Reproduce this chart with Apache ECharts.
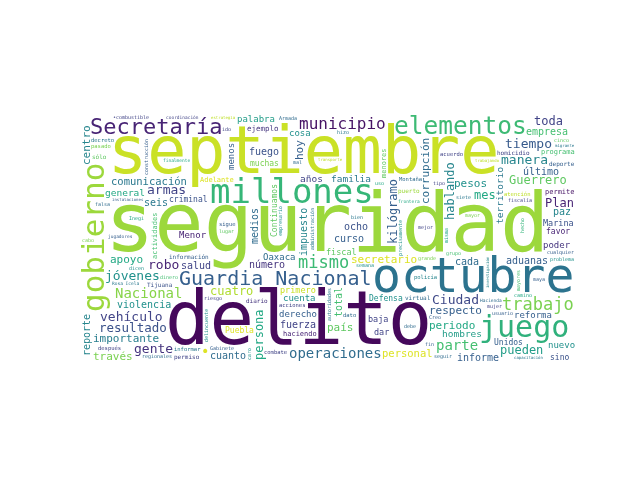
<!DOCTYPE html>
<html>
<head>
<meta charset="utf-8">
<script src="https://cdn.jsdelivr.net/npm/echarts@6/dist/echarts.min.js"></script>
<style>
  html, body { margin: 0; padding: 0; background: #fff; }
  #chart { width: 640px; height: 480px; }
</style>
</head>
<body>
<div id="chart"></div>
<script>
// palabras y su peso (tamaño relativo)
const words = [
  'seguridad', 'delito', 'septiembre', 'octubre', 'millones', 'gobierno', 'juego', 'Guardia Nacional',
  'elementos', 'Secretaría', 'trabajo', 'mismo', 'municipio', 'parte', 'operaciones', 'Nacional',
  '•', 'Ciudad', 'manera', 'armas', 'robo', 'jóvenes', 'gente', 'tiempo', 'vehículo', 'resultado',
  'pueden', 'cuatro', 'Plan', 'Guerrero', 'mes', 'kilógramo', 'hablando', 'persona', 'corrupción', 'toda',
  'centro', 'respecto', 'secretario', 'importante', 'través', 'pesos', 'hoy', 'apoyo', 'periodo', 'país',
  'comunicación', 'personal', 'reporte', 'salud', 'empresa', 'número', 'ocho', 'aduanas', 'informe',
  'cuanto', 'seis', 'paz', 'último', 'violencia', 'fuerza', 'total', 'impuesto', 'medios', 'fuego',
  'cada', 'curso', 'palabra', 'territorio', 'general', 'familia', 'hombres', 'primero', 'años', 'ejemplo',
  'reforma', 'Oaxaca', 'criminal', 'Menor', 'derecho', 'Adelante', 'haciendo', 'permite', 'menos',
  'poder', 'cuenta', 'nuevo', 'Defensa', 'cosa', 'Marina', 'baja', 'dar', 'fiscal', 'favor', 'Unidos',
  'sino', 'muchas', 'Puebla', 'homicidio', 'Continuamos', 'programa', 'atención', 'permiso', 'menores',
  'información', 'actividades', 'regionales', 'Tijuana', 'cualquier', 'capacitación', 'deporte',
  'estrategia', 'virtual', 'puerto', 'sólo', 'fiscalía', '•combustible', 'instalaciones', 'problema',
  'diario', 'coordinación', 'acciones', 'combate', 'informar', 'jugadores', 'dato', 'finalmente', 'sigue',
  'Hacienda', 'Rosa Icela', 'Montaña', 'policía', 'decreto', 'después', 'pasado', 'acuerdo', 'frontera',
  'transporte', 'Gabinete', 'falsa', 'ido', 'siete', 'cinco', 'mal', 'delincuente', 'construcción',
  'hecho', 'bien', 'Armada', 'debe', 'dicen', 'seguir', 'Inegi', 'grupo', 'trabajando', 'mejor', 'dinero',
  'grande', 'lugar', 'usuario', 'migrante', 'fin', 'mayor', 'mujer', 'Creo', 'hizo', 'precisamente',
  'investigación', 'riesgo', 'cabo', 'semana', 'caro', 'administración', 'misma', 'camino', 'tipo', 'uso',
  'maya', 'mayores', 'empresario', 'autoridades'
]
const weights = [
  82, 74, 65, 48, 37, 34, 30, 25,
  24.5, 22, 17, 17, 16, 14, 14, 14,
  14, 13, 13, 13, 13, 13, 13, 13, 13, 12.5,
  12, 12, 12, 12, 12, 12, 12, 12, 12, 12,
  11, 11, 11, 11, 11, 11, 11, 11, 11, 11,
  10.5, 10.5, 10, 10, 10, 10, 10, 10, 10,
  10, 10, 10, 10, 10, 10, 10, 10, 10, 10,
  10, 10, 10, 9.5, 9.5, 9.5, 9.5, 9.5, 9.5, 9.5,
  9, 9, 9, 9, 9, 9, 9, 9, 9,
  9, 9, 9, 9, 9, 8.5, 8.5, 8.5, 8.5, 8, 8,
  8, 8, 8, 8, 8, 8, 7.5, 7, 7,
  7, 7, 6, 6, 6, 6, 6,
  6, 6, 6, 6, 6, 6, 6, 6,
  6, 5.5, 5.5, 5.5, 5.5, 5.5, 5.5, 5.5, 5.5,
  5.5, 5.5, 5.5, 5.5, 5.5, 5.5, 5.5, 5.5, 5.5,
  5, 5, 5, 5, 5, 5, 5, 5, 5,
  5, 5, 5, 5, 5, 5, 5, 5, 5, 5, 5,
  5, 5, 5, 5, 5, 5, 5, 5, 5, 5,
  5, 5, 5, 5, 5, 5, 5, 5, 5, 5,
  5, 5, 5, 5
]
// tono en la escala viridis (0 = morado, 1 = amarillo)
const tones = [
  0.85, 0.02, 0.92, 0.38, 0.66, 0.85, 0.64, 0.3,
  0.68, 0.1, 0.8, 0.68, 0.05, 0.7, 0.35, 0.82,
  0.95, 0.22, 0.45, 0.2, 0.1, 0.5, 0.15, 0.28, 0.2, 0.25,
  0.55, 0.88, 0.1, 0.75, 0.6, 0.3, 0.45, 0.6, 0.35, 0.2,
  0.45, 0.3, 0.95, 0.42, 0.8, 0.5, 0.3, 0.6, 0.6, 0.75,
  0.4, 0.95, 0.45, 0.2, 0.7, 0.15, 0.25, 0.3, 0.3,
  0.35, 0.4, 0.45, 0.3, 0.5, 0.2, 0.7, 0.45, 0.35, 0.25,
  0.35, 0.3, 0.55, 0.4, 0.6, 0.4, 0.55, 0.92, 0.2, 0.15,
  0.3, 0.35, 0.25, 0.1, 0.3, 0.95, 0.1, 0.05, 0.3,
  0.15, 0.5, 0.5, 0.5, 0.5, 0.25, 0.2, 0.2, 0.75, 0.1, 0.3,
  0.25, 0.8, 0.95, 0.2, 0.75, 0.7, 0.9, 0.2, 0.75,
  0.3, 0.7, 0.35, 0.25, 0.3, 0.4, 0.3,
  0.9, 0.35, 0.85, 0.75, 0.2, 0.2, 0.3, 0.5,
  0.15, 0.2, 0.2, 0.2, 0.4, 0.3, 0.35, 0.6, 0.3,
  0.35, 0.4, 0.35, 0.45, 0.4, 0.2, 0.8, 0.2, 0.6,
  0.9, 0.3, 0.35, 0.2, 0.4, 0.75, 0.35, 0.5, 0.3,
  0.65, 0.4, 0.35, 0.35, 0.5, 0.35, 0.6, 0.7, 0.9, 0.2, 0.7,
  0.8, 0.75, 0.3, 0.4, 0.3, 0.8, 0.2, 0.3, 0.4, 0.5,
  0.45, 0.2, 0.8, 0.5, 0.5, 0.4, 0.6, 0.6, 0.2, 0.6,
  0.3, 0.7, 0.5, 0.4
]
// palabras escritas en vertical
const verticalWords = [
  'gobierno', 'kilógramo', 'hablando', 'persona', 'corrupción', 'centro', 'hoy', 'reporte', 'total',
  'impuesto', 'medios', 'territorio', 'menos', 'Continuamos', 'menores', 'actividades', 'delincuente',
  'construcción', 'hecho', 'precisamente', 'investigación', 'caro', 'administración', 'misma',
  'mayores', 'empresario', 'autoridades'
]

const viridis = ['#440154', '#482475', '#414487', '#355f8d', '#2a788e', '#21918c',
  '#22a884', '#44bf70', '#7ad151', '#bddf26', '#fde725']

const area = { left: 80, top: 114, width: 496, height: 248 }
const fontFamily = 'DejaVu Sans Mono'
const margin = 2

const toneColor = (t) => {
  let p = t * (viridis.length - 1)
  let i = Math.min(Math.floor(p), viridis.length - 2)
  let f = p - i
  let a = viridis[i], b = viridis[i + 1]
  let c = [1, 3, 5].map((k) => {
    let va = parseInt(a.substr(k, 2), 16), vb = parseInt(b.substr(k, 2), 16)
    return Math.round(va + (vb - va) * f)
  })
  return 'rgb(' + c.join(',') + ')'
}

const mulberry32 = (seed) => () => {
  seed |= 0
  seed = (seed + 0x6d2b79f5) | 0
  let t = Math.imul(seed ^ (seed >>> 15), 1 | seed)
  t = (t + Math.imul(t ^ (t >>> 7), 61 | t)) ^ t
  return ((t ^ (t >>> 14)) >>> 0) / 4294967296
}

const order = words.map((w, i) => i).sort((a, b) => weights[b] - weights[a])

// colocación tipo wordcloud: caja libre de tinta elegida al azar (semilla fija)
const layoutCloud = (seed, limit) => {
  const W = area.width, H = area.height
  const cv = document.createElement('canvas')
  cv.width = W
  cv.height = H
  const ctx = cv.getContext('2d')
  ctx.textBaseline = 'middle'
  ctx.textAlign = 'left'
  ctx.fillStyle = '#000'
  const rand = mulberry32(seed)
  const integral = new Int32Array((W + 1) * (H + 1))
  const rebuild = () => {
    const img = ctx.getImageData(0, 0, W, H).data
    for (let y = 0; y < H; y++) {
      let row = 0
      for (let x = 0; x < W; x++) {
        row += img[(y * W + x) * 4 + 3] > 0 ? 1 : 0
        integral[(y + 1) * (W + 1) + x + 1] = integral[y * (W + 1) + x + 1] + row
      }
    }
  }
  rebuild()
  const placed = []
  for (const i of order.slice(0, limit)) {
    const vert = verticalWords.includes(words[i])
    let size = weights[i]
    while (size >= 4) {
      ctx.font = size + 'px "' + fontFamily + '"'
      const m = ctx.measureText(words[i])
      const l = Math.ceil(m.actualBoundingBoxLeft), r = Math.ceil(m.actualBoundingBoxRight)
      const a = Math.ceil(m.actualBoundingBoxAscent), d = Math.ceil(m.actualBoundingBoxDescent)
      const bw = (vert ? a + d : l + r) + margin
      const bh = (vert ? l + r : a + d) + margin
      const hits = []
      for (let y = 0; y + bh <= H; y++) {
        for (let x = 0; x + bw <= W; x++) {
          const s = integral[(y + bh) * (W + 1) + x + bw] - integral[y * (W + 1) + x + bw] -
            integral[(y + bh) * (W + 1) + x] + integral[y * (W + 1) + x]
          if (s === 0) hits.push(y * W + x)
        }
      }
      if (hits.length) {
        const h = hits[Math.floor(rand() * hits.length)]
        const bx = h % W, by = (h - bx) / W
        const ax = vert ? bx + margin / 2 + a : bx + margin / 2 + l
        const ay = vert ? by + margin / 2 + r : by + margin / 2 + a
        ctx.save()
        ctx.translate(ax, ay)
        if (vert) ctx.rotate(-Math.PI / 2)
        ctx.fillText(words[i], 0, 0)
        ctx.restore()
        rebuild()
        placed[i] = { x: area.left + ax, y: area.top + ay, size, vert }
        break
      }
      size -= 1
    }
  }
  return placed
}

// elegir una semilla cuyo orden relativo de las palabras grandes se parezca a la imagen
const rankSeed = (p) => {
  const g = (w) => p[words.indexOf(w)] || { x: 0, y: 0 }
  const seg = g('seguridad'), del = g('delito'), sep = g('septiembre'), oct = g('octubre')
  const mil = g('millones'), gob = g('gobierno'), jue = g('juego'), gua = g('Guardia Nacional')
  const checks = [
    sep.y < seg.y, seg.y < del.y, mil.y < seg.y, sep.y < mil.y, oct.y > seg.y,
    oct.x > del.x + 150, gob.x < seg.x, jue.y > seg.y, jue.x > del.x + 200, gua.y > del.y,
    mil.x > gob.x + 60, gua.x < jue.x, oct.y < del.y
  ]
  return checks.filter(Boolean).length
}
let bestSeed = 1, bestScore = -1
for (let s = 1; s <= 300 && bestScore < 13; s++) {
  const sc = rankSeed(layoutCloud(s, 8))
  if (sc > bestScore) { bestScore = sc; bestSeed = s }
}

const placed = layoutCloud(bestSeed, words.length)

const chart = echarts.init(document.getElementById('chart'))
chart.setOption({
  backgroundColor: '#ffffff',
  animation: false,
  series: [{
    type: 'custom',
    coordinateSystem: 'none',
    silent: true,
    data: words.map((w, i) => [i]),
    renderItem: (params, api) => {
      const i = api.value(0)
      const p = placed[i]
      if (!p) return null
      return {
        type: 'text',
        x: p.x,
        y: p.y,
        rotation: p.vert ? Math.PI / 2 : 0,
        style: {
          text: words[i],
          x: 0,
          y: 0,
          fontSize: p.size,
          fontFamily: fontFamily,
          fill: toneColor(tones[i]),
          align: 'left',
          verticalAlign: 'middle'
        }
      }
    }
  }]
})
</script>
</body>
</html>
